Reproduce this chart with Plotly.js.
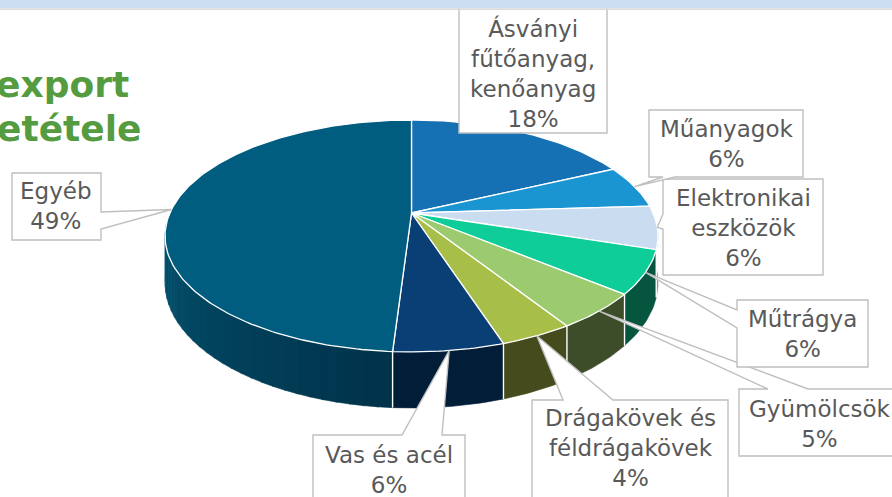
<!DOCTYPE html>
<html>
<head>
<meta charset="utf-8">
<script src="https://cdn.plot.ly/plotly-3.0.1.min.js"></script>
<style>html,body{margin:0;padding:0;background:#fff;}#chart{width:892px;height:497px;}</style>
</head>
<body>
<div id="chart"></div>
<script>
// ---- data ----
const categories = ['Ásványi fűtőanyag, kenőanyag', 'Műanyagok', 'Elektronikai eszközök', 'Műtrágya', 'Gyümölcsök', 'Drágakövek és féldrágakövek', 'Vas és acél', 'Egyéb'];
const values = [18, 6, 6, 6, 5, 4, 6, 49];
const labelLines = [['Ásványi', 'fűtőanyag,', 'kenőanyag'], ['Műanyagok'], ['Elektronikai', 'eszközök'], ['Műtrágya'], ['Gyümölcsök'], ['Drágakövek és', 'féldrágakövek'], ['Vas és acél'], ['Egyéb']];
const titleLines = ['export', 'etétele'];

// ---- style ----
const topColors = ['#1671B4', '#1A95D2', '#C9DCF0', '#0FCD98', '#9BCB6E', '#A7BF48', '#0A3F76', '#005D80'];
const wallColors = ['#0D4470', '#0F5A80', '#7A8A99', '#06553F', '#3D4D29', '#464B1D', '#021D38', '#01415C'];
const egyebWallLeft = [3, 84, 113], egyebWallRight = [1, 50, 74];

// label layout: box [x0,y0,x1,y1], callout edge, wedge base, text centre
const labelLayout = [
  {box: [459, 4, 607, 133], edge: 'none', base: [0, 0], tx: 533, ty: 73},
  {box: [649, 110, 803, 177], edge: 'bottom', base: [663, 675], tx: 726, ty: 144},
  {box: [663, 179, 823, 275], edge: 'left', base: [214, 229], tx: 743, ty: 228},
  {box: [737, 300, 868, 367], edge: 'left', base: [310, 328], tx: 802, ty: 334},
  {box: [739, 389, 905, 456], edge: 'top', base: [768, 808], tx: 820, ty: 424},
  {box: [532, 400, 728, 520], edge: 'top', base: [563, 613], tx: 630, ty: 448},
  {box: [313, 435, 465, 520], edge: 'top', base: [402, 442], tx: 389, ty: 470},
  {box: [12, 173, 101, 240], edge: 'right', base: [212, 229], tx: 56, ty: 206}
];

// pie geometry (perspective-projected disc)
const CX = 411.5, CY = 213, R = 241.6, KY = 111.4 / 241.6, P = 0.198, H = 45;
const VIS_LO = 95, VIS_HI = 265;

function proj(phi, depth) {
  const t = phi * Math.PI / 180;
  const u = Math.sin(t), v = -Math.cos(t);
  const s = 1 / (1 - P * v);
  return [CX + R * u * s, CY + R * KY * v * s + depth * s];
}
function arc(a, b, depth) {
  const n = Math.max(2, Math.ceil(Math.abs(b - a) / 1));
  const pts = [];
  for (let i = 0; i <= n; i++) pts.push(proj(a + (b - a) * i / n, depth));
  return pts;
}
function hex(c) { return '#' + c.map(x => Math.round(x).toString(16).padStart(2, '0')).join(''); }

const total = values.reduce((a, b) => a + b, 0);
const starts = [], ends = [];
let cum = 0;
values.forEach(v => { starts.push(cum / total * 360); cum += v; ends.push(cum / total * 360); });

const traces = [];
function poly(pts, fill, lineColor, lineWidth) {
  traces.push({
    type: 'scatter', mode: 'lines', fill: 'toself',
    x: pts.map(p => p[0]), y: pts.map(p => p[1]),
    fillcolor: fill, line: {color: lineColor, width: lineWidth},
    hoverinfo: 'skip', showlegend: false
  });
}

// side walls
values.forEach((v, i) => {
  const a = Math.max(starts[i], VIS_LO), b = Math.min(ends[i], VIS_HI);
  if (a >= b) return;
  if (i === values.length - 1) {
    const n = 30;
    for (let k = 0; k < n; k++) {
      const sa = a + (b - a) * k / n, sb = a + (b - a) * (k + 1) / n + 0.3;
      const f = (k + 0.5) / n;
      const c = hex(egyebWallRight.map((r, j) => r + (egyebWallLeft[j] - r) * f));
      poly(arc(sa, Math.min(sb, b), 0).concat(arc(Math.min(sb, b), sa, H)), c, c, 0.6);
    }
  } else {
    poly(arc(a, b, 0).concat(arc(b, a, H)), wallColors[i], wallColors[i], 0.6);
  }
});

// white edges on walls at slice boundaries
const ex = [], ey = [];
starts.forEach(s => {
  if (s > VIS_LO && s < VIS_HI) {
    const p0 = proj(s, 0), p1 = proj(s, H);
    ex.push(p0[0], p1[0], null); ey.push(p0[1], p1[1], null);
  }
});
traces.push({type: 'scatter', mode: 'lines', x: ex, y: ey, line: {color: '#FFFFFF', width: 1.4}, hoverinfo: 'skip', showlegend: false});

// top faces
values.forEach((v, i) => {
  poly([[CX, CY]].concat(arc(starts[i], ends[i], 0)).concat([[CX, CY]]), topColors[i], '#FFFFFF', 1.3);
});

// callouts
function calloutPath(bx, edge, base, anc) {
  const [x0, y0, x1, y1] = bx;
  const pts = [[x0, y0]];
  if (edge === 'top') pts.push([base[0], y0], anc, [base[1], y0]);
  pts.push([x1, y0]);
  if (edge === 'right') pts.push([x1, base[0]], anc, [x1, base[1]]);
  pts.push([x1, y1]);
  if (edge === 'bottom') pts.push([base[1], y1], anc, [base[0], y1]);
  pts.push([x0, y1]);
  if (edge === 'left') pts.push([x0, base[1]], anc, [x0, base[0]]);
  return 'M' + pts.map(p => p[0].toFixed(1) + ',' + p[1].toFixed(1)).join('L') + 'Z';
}

const shapes = [];
const annotations = [];
for (let i = values.length - 1; i >= 0; i--) {
  const L = labelLayout[i];
  const mid = (starts[i] + ends[i]) / 2;
  const anc = proj(mid, 0);
  shapes.push({
    type: 'path', xref: 'x', yref: 'y', path: calloutPath(L.box, L.edge, L.base, anc),
    fillcolor: '#FFFFFF', line: {color: '#BFBFBF', width: 1.4}, layer: 'above'
  });
}
values.forEach((v, i) => {
  const L = labelLayout[i];
  annotations.push({
    xref: 'x', yref: 'y', x: L.tx, y: L.ty, xanchor: 'center', yanchor: 'middle',
    text: labelLines[i].concat([v + '%']).join('<br>'), showarrow: false, align: 'center',
    font: {family: 'DejaVu Sans, Verdana, sans-serif', size: 23, color: '#595959'}
  });
});

// partial title on the left (cut off by the frame, as in the reference)
annotations.push({xref: 'x', yref: 'y', x: 131, y: 84, xanchor: 'right', yanchor: 'middle', showarrow: false,
  text: '<b>' + titleLines[0] + '</b>', font: {family: 'DejaVu Sans, Verdana, sans-serif', size: 36, color: '#559B3F'}});
annotations.push({xref: 'x', yref: 'y', x: 143, y: 128, xanchor: 'right', yanchor: 'middle', showarrow: false,
  text: '<b>' + titleLines[1] + '</b>', font: {family: 'DejaVu Sans, Verdana, sans-serif', size: 36, color: '#559B3F'}});

// top band
shapes.push({type: 'rect', xref: 'x', yref: 'y', x0: -5, x1: 897, y0: -5, y1: 8.5, fillcolor: '#CCDFF2', line: {width: 0}, layer: 'above'});
shapes.push({type: 'rect', xref: 'x', yref: 'y', x0: -5, x1: 897, y0: 8.5, y1: 10, fillcolor: '#DCDCDC', line: {width: 0}, layer: 'above'});

const layout = {
  width: 892, height: 497,
  margin: {l: 0, r: 0, t: 0, b: 0, pad: 0},
  paper_bgcolor: '#FFFFFF', plot_bgcolor: '#FFFFFF',
  xaxis: {range: [0, 892], visible: false, fixedrange: true, showgrid: false, zeroline: false},
  yaxis: {range: [497, 0], visible: false, fixedrange: true, showgrid: false, zeroline: false},
  shapes: shapes, annotations: annotations, showlegend: false
};

Plotly.newPlot('chart', traces, layout, {displayModeBar: false, staticPlot: true});
</script>
</body>
</html>
